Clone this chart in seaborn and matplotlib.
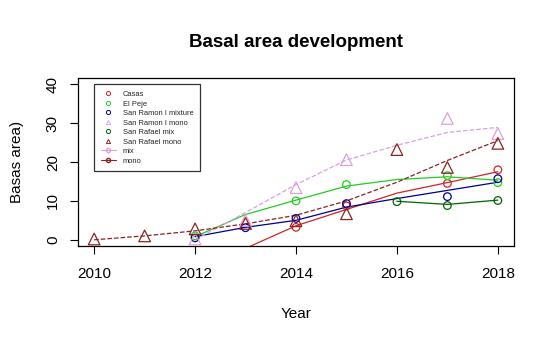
import numpy as np
import pandas as pd
import matplotlib
matplotlib.use("Agg")
import matplotlib.pyplot as plt
from matplotlib.lines import Line2D
import seaborn as sns

# ---- data ----
years_all = [2010, 2011, 2012, 2013, 2014, 2015, 2016, 2017, 2018]

# observed points
casas_years = [2014, 2015, 2017, 2018]
casas_vals = [3.2, 8.7, 14.5, 18.0]
peje_years = [2012, 2014, 2015, 2017, 2018]
peje_vals = [1.0, 10.0, 14.2, 16.5, 14.7]
srmix_years = [2012, 2013, 2014, 2015, 2017, 2018]
srmix_vals = [0.5, 3.1, 5.5, 9.3, 11.1, 15.7]
srmono_years = [2012, 2013, 2014, 2015, 2017, 2018]
srmono_vals = [0.2, 5.0, 13.4, 20.6, 31.2, 27.3]
rafmix_years = [2016, 2017, 2018]
rafmix_vals = [9.8, 8.8, 10.1]
rafmono_years = [2010, 2011, 2012, 2013, 2014, 2015, 2016, 2017, 2018]
rafmono_vals = [0.2, 1.0, 2.8, 4.2, 4.9, 6.7, 23.2, 18.6, 24.8]

# fitted lines
casas_fit_years = [2013, 2014, 2015, 2016, 2017, 2018]
casas_fit = [-2.2, 3.6, 7.8, 12.0, 14.7, 17.5]
peje_fit_years = [2012, 2013, 2014, 2015, 2016, 2017, 2018]
peje_fit = [0.8, 6.5, 10.2, 13.8, 15.5, 16.2, 15.3]
srmix_fit_years = [2012, 2013, 2014, 2015, 2016, 2017, 2018]
srmix_fit = [0.8, 3.2, 5.0, 8.4, 10.6, 12.7, 14.8]
srmono_fit_years = [2012, 2013, 2014, 2015, 2016, 2017, 2018]
srmono_fit = [0.0, 7.0, 14.2, 20.5, 24.3, 27.6, 28.9]
rafmix_fit_years = [2016, 2017, 2018]
rafmix_fit = [9.9, 9.1, 10.2]
rafmono_fit_years = [2010, 2011, 2012, 2013, 2014, 2015, 2016, 2017, 2018]
rafmono_fit = [0.0, 1.0, 2.3, 4.1, 6.3, 10.0, 14.8, 20.4, 25.5]

labels = ["Casas", "El Peje", "San Ramon I mixture", "San Ramon I mono",
          "San Rafael mix", "San Rafael mono"]
colors = ["#CD2626", "#22CC22", "#00008B", "#DDA0DD", "#006400", "#8B2323"]
markers = ["o", "o", "o", "^", "o", "^"]
linestyles = ["-", "-", "-", "--", "-", "--"]

pts = [(casas_years, casas_vals), (peje_years, peje_vals), (srmix_years, srmix_vals),
       (srmono_years, srmono_vals), (rafmix_years, rafmix_vals), (rafmono_years, rafmono_vals)]
fits = [(casas_fit_years, casas_fit), (peje_fit_years, peje_fit), (srmix_fit_years, srmix_fit),
        (srmono_fit_years, srmono_fit), (rafmix_fit_years, rafmix_fit), (rafmono_fit_years, rafmono_fit)]

sns.set_style("ticks")
plt.rcParams["font.family"] = ["Liberation Sans", "DejaVu Sans"]
plt.rcParams["text.color"] = "black"
plt.rcParams["axes.labelcolor"] = "black"

fig = plt.figure(figsize=(5.55, 3.44), dpi=100)
ax = fig.add_axes([78/555, 1-246/344, 436/555, 168/344])

for (fy, fv), c, ls in zip(fits, colors, linestyles):
    df = pd.DataFrame({"Year": fy, "v": fv})
    sns.lineplot(data=df, x="Year", y="v", ax=ax, color=c, linewidth=0.9,
                 linestyle=ls, estimator=None, sort=False, legend=False)

for (py, pv), c, m in zip(pts, colors, markers):
    df = pd.DataFrame({"Year": py, "v": pv})
    size = 70 if m == "^" else 30
    sns.scatterplot(data=df, x="Year", y="v", ax=ax, marker=m, s=size,
                    facecolors="none", edgecolor=c, linewidth=0.9, legend=False, zorder=5)

ax.set_xlim(2009.68, 2018.32)
ax.set_ylim(-1.6, 41.6)
ax.set_xticks([2010, 2012, 2014, 2016, 2018])
ax.set_yticks([0, 10, 20, 30, 40])
ax.tick_params(axis="both", direction="out", length=6, width=0.8, labelsize=11,
               colors="black", labelcolor="black")
ax.tick_params(axis="x", pad=9)
ax.tick_params(axis="y", pad=7)
for lab in ax.get_yticklabels():
    lab.set_rotation(90)
    lab.set_va("center")
for sp in ax.spines.values():
    sp.set_visible(True)
    sp.set_color("black")
    sp.set_linewidth(0.9)

ax.set_xlabel("Year", fontsize=11, labelpad=19, color="black")
ax.set_ylabel("Basas area)", fontsize=11, labelpad=16, color="black")
ax.set_title("Basal area development", fontsize=13.5, fontweight="bold", pad=22, color="black")

handles = []
for l, c, m in zip(labels, colors, markers):
    handles.append(Line2D([], [], linestyle="none", marker=m, markerfacecolor="none",
                          markeredgecolor=c, markersize=3, markeredgewidth=0.7, label=l))
handles.append(Line2D([], [], color="#DDA0DD", marker="o", markerfacecolor="none",
                      markersize=3, linewidth=0.8, label="mix"))
handles.append(Line2D([], [], color="#8B2323", marker="o", markerfacecolor="none",
                      markersize=3, linewidth=0.8, label="mono"))
leg = ax.legend(handles=handles, loc="upper left", bbox_to_anchor=(0.0367, 0.964),
                borderaxespad=0, fontsize=5.4, frameon=True, fancybox=False,
                labelspacing=0.3, handlelength=2.0, handletextpad=0.9, borderpad=0.9)
leg.get_frame().set_edgecolor("black")
leg.get_frame().set_linewidth(0.9)
for t in leg.get_texts():
    t.set_color("#222222")

fig.savefig("out.png", dpi=100)
